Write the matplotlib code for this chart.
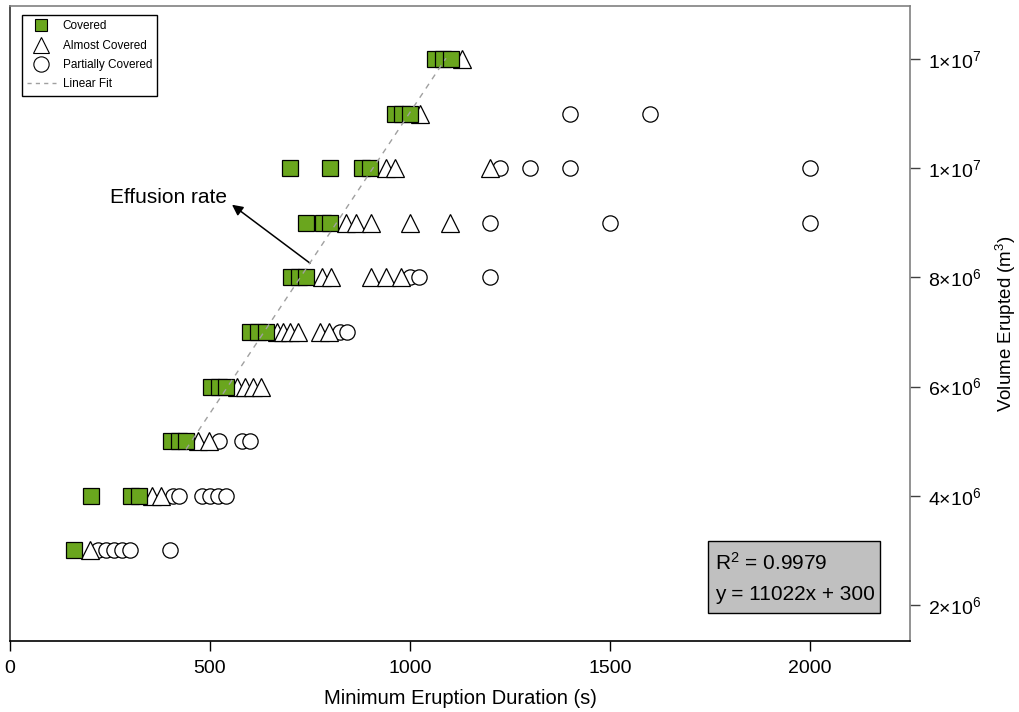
import matplotlib
matplotlib.use('Agg')
import matplotlib.pyplot as plt
from matplotlib.lines import Line2D
from matplotlib.patches import Rectangle
import numpy as np

plt.rcParams['font.family'] = ['Liberation Sans', 'DejaVu Sans']
plt.rcParams['mathtext.fontset'] = 'custom'
plt.rcParams['mathtext.rm'] = 'Liberation Sans'
plt.rcParams['mathtext.it'] = 'Liberation Sans:italic'

# data: duration (s) vs volume (m3)
covered_dur = [160,
               202, 302, 322,
               402, 422, 440,
               502, 522, 540,
               600, 620, 640,
               702, 722, 740,
               740, 782, 800,
               700, 800, 880, 900,
               962, 980, 1000,
               1062, 1082, 1102]
covered_vol = [3e6,
               4e6, 4e6, 4e6,
               5e6, 5e6, 5e6,
               6e6, 6e6, 6e6,
               7e6, 7e6, 7e6,
               8e6, 8e6, 8e6,
               9e6, 9e6, 9e6,
               1e7, 1e7, 1e7, 1e7,
               1.1e7, 1.1e7, 1.1e7,
               1.2e7, 1.2e7, 1.2e7]

almost_dur = [200,
              355, 378,
              470, 498,
              568, 588, 608, 628,
              668, 682, 700, 720, 775, 798,
              780, 802, 902, 940, 978,
              840, 865, 902, 1000, 1100,
              940, 962, 1200,
              1025,
              1130]
almost_vol = [3e6,
              4e6, 4e6,
              5e6, 5e6,
              6e6, 6e6, 6e6, 6e6,
              7e6, 7e6, 7e6, 7e6, 7e6, 7e6,
              8e6, 8e6, 8e6, 8e6, 8e6,
              9e6, 9e6, 9e6, 9e6, 9e6,
              1e7, 1e7, 1e7,
              1.1e7,
              1.2e7]

partial_dur = [220, 240, 260, 280, 300, 400,
               408, 422, 480, 500, 520, 540,
               522, 580, 600,
               825, 842,
               1000, 1022, 1200,
               1200, 1500, 2000,
               1225, 1300, 1400, 2000,
               1400, 1600]
partial_vol = [3e6, 3e6, 3e6, 3e6, 3e6, 3e6,
               4e6, 4e6, 4e6, 4e6, 4e6, 4e6,
               5e6, 5e6, 5e6,
               7e6, 7e6,
               8e6, 8e6, 8e6,
               9e6, 9e6, 9e6,
               1e7, 1e7, 1e7, 1e7,
               1.1e7, 1.1e7]

fit_slope = 11022
fit_intercept = 300
fit_range = [440, 1090]
r_squared = 0.9979

y_ticks = [2e6, 4e6, 6e6, 8e6, 1e7, 1.2e7]
x_ticks = [0, 500, 1000, 1500, 2000]

green = '#6aa61e'


def sci_label(v):
    exp = int(np.floor(np.log10(v)))
    mant = int(round(v / 10 ** exp))
    return '%d\u00d710$^{%d}$' % (mant, exp)


fig = plt.figure(figsize=(10.19, 7.12), dpi=100)
ax = fig.add_axes([10 / 1019, 71 / 712, 900 / 1019, 635 / 712])

ax.plot(partial_dur, partial_vol, 'o', ms=11, mfc='white', mec='black', mew=0.9, zorder=2)
ax.plot(almost_dur, almost_vol, '^', ms=12.5, mfc='white', mec='black', mew=0.9, zorder=3)
ax.plot(covered_dur, covered_vol, 's', ms=11.5, mfc=green, mec='black', mew=0.9, zorder=4)

fx = np.array(fit_range)
ax.plot(fx, fit_slope * fx + fit_intercept, color='#a0a0a0', lw=1, dashes=(4, 4), zorder=5)

ax.set_xlim(0, 2250)
ax.set_ylim(1.34e6, 1.297e7)

ax.set_xticks(x_ticks)
ax.set_xticklabels([str(t) for t in x_ticks])
ax.yaxis.tick_right()
ax.yaxis.set_label_position('right')
ax.set_yticks(y_ticks)
ax.set_yticklabels([sci_label(t) for t in y_ticks])
ax.tick_params(axis='both', direction='out', length=7, width=1, labelsize=14, color='black')
ax.tick_params(axis='y', colors='#404040', labelcolor='black', pad=6)
ax.tick_params(axis='x', pad=7)

ax.set_xlabel('Minimum Eruption Duration (s)', fontsize=14.5, labelpad=8)
ax.set_ylabel('Volume Erupted (m$^3$)', fontsize=13.5, labelpad=9)

for side in ['top', 'right']:
    ax.spines[side].set_color('#808080')
ax.spines['left'].set_color('#303030')
ax.spines['bottom'].set_color('black')
for s in ax.spines.values():
    s.set_linewidth(1.2)

# annotation arrow
ax.annotate('', xy=(555, 9.33e6), xytext=(750, 8.26e6),
            arrowprops=dict(arrowstyle='-|>', color='black', lw=1.1,
                            mutation_scale=16, shrinkA=0, shrinkB=0))
ax.text(395, 9.47e6, 'Effusion rate', fontsize=15, ha='center', va='center')

# fit statistics box
ax.add_patch(Rectangle((0.7756, 0.0441), 0.1911, 0.1134, transform=ax.transAxes,
                       facecolor='#c0c0c0', edgecolor='black', lw=1, zorder=6))
ax.text(0.783, 0.1228, 'R$^2$ = %.4f' % r_squared, transform=ax.transAxes,
        fontsize=15, va='center', ha='left', zorder=7)
ax.text(0.783, 0.074, 'y = %dx + %d' % (fit_slope, fit_intercept), transform=ax.transAxes,
        fontsize=15, va='center', ha='left', zorder=7)

handles = [
    Line2D([], [], ls='none', marker='s', ms=9, mfc=green, mec='black', mew=0.8),
    Line2D([], [], ls='none', marker='^', ms=12, mfc='white', mec='black', mew=0.8),
    Line2D([], [], ls='none', marker='o', ms=11, mfc='white', mec='black', mew=0.8),
    Line2D([], [], color='#a0a0a0', lw=1, dashes=(3, 3)),
]
labels = ['Covered', 'Almost Covered', 'Partially Covered', 'Linear Fit']
leg = ax.legend(handles, labels, loc='upper left', fontsize=8.5, frameon=True,
                fancybox=False, edgecolor='black', framealpha=1,
                bbox_to_anchor=(12 / 900, 1 - 9 / 635), borderaxespad=0,
                handlelength=2.4, handletextpad=0.6,
                labelspacing=0.62, borderpad=0.45)
leg.get_frame().set_linewidth(1)

fig.savefig('out.png', dpi=100)
